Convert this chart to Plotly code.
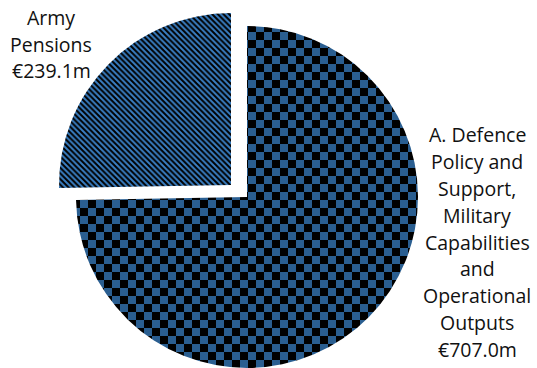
import plotly.graph_objects as go

# Spending split (EUR millions), drawn clockwise from 12 o'clock
labels = ["A. Defence Policy and Support, Military Capabilities and Operational Outputs",
          "Army Pensions"]
values = [707.0, 239.1]
label_lines = [["A. Defence", "Policy and", "Support,", "Military", "Capabilities",
                "and", "Operational", "Outputs"],
               ["Army", "Pensions"]]

W, H = 537, 368
STRIPE_BLUE = "#3a7fc3"
CHECK_BLUE = "#2a5e90"
INK = "#000000"
CLEAR = "rgba(0,0,0,0)"
FONT = "Open Sans"
FONT_SIZE = 19.5


def px_domain(cx, cy, r):
    """Square pie domain (paper fractions) around a pixel centre."""
    return dict(x=[(cx - r) / W, (cx + r) / W],
                y=[max(0.0, (H - cy - r) / H), min(1.0, (H - cy + r) / H)])


def slice_trace(show, shape, size, color, domain):
    """Pie trace in which only slice `show` is painted."""
    colors = [color if i == show else CLEAR for i in range(len(values))]
    shapes = [shape if i == show else "" for i in range(len(values))]
    return go.Pie(
        labels=labels, values=values, sort=False,
        direction="clockwise", rotation=0,
        textinfo="none", hoverinfo="label+value",
        showlegend=False, domain=domain,
        marker=dict(colors=colors, line=dict(width=0),
                    pattern=dict(shape=shapes, size=size, solidity=0.5,
                                 fgcolor=INK, bgcolor=colors, fillmode="replace")),
    )


fig = go.Figure()
# large slice (checked fill) and the exploded pensions slice (striped fill)
fig.add_trace(slice_trace(0, "+", 16, CHECK_BLUE, px_domain(247, 197, 171)))
fig.add_trace(slice_trace(1, "\\", 4, STRIPE_BLUE, px_domain(231, 185, 172)))


def label_block(i, cx, first_baseline, pitch):
    """One annotation per line so the line pitch can be set exactly."""
    lines = label_lines[i] + [f"€{values[i]:.1f}m"]
    out = []
    for k, line in enumerate(lines):
        mid = first_baseline + k * pitch - 0.36 * FONT_SIZE
        out.append(dict(text=line, x=cx / W, y=1 - mid / H,
                        xref="paper", yref="paper", xanchor="center", yanchor="middle",
                        showarrow=False, align="center",
                        font=dict(family=FONT, size=FONT_SIZE, color="#111111")))
    return out


annots = label_block(1, 51, 25, 26.3) + label_block(0, 477, 141.5, 26.9)

fig.update_layout(
    width=W, height=H,
    margin=dict(l=0, r=0, t=0, b=0),
    paper_bgcolor="white", plot_bgcolor="white",
    annotations=annots,
)

# Swap the generated fills for pixel tiles: an 8px checkerboard and a 4px "\" stripe
tile_js = """
var gd = document.getElementById('{plot_id}');
var NS = 'http://www.w3.org/2000/svg';
function rect(p, x, y, w, h, c) {
  var r = document.createElementNS(NS, 'rect');
  r.setAttribute('x', x); r.setAttribute('y', y);
  r.setAttribute('width', w); r.setAttribute('height', h);
  r.setAttribute('fill', c); r.setAttribute('shape-rendering', 'crispEdges');
  p.appendChild(r);
}
function retile() {
  gd.querySelectorAll('pattern').forEach(function(p) {
    var w = parseFloat(p.getAttribute('width'));
    if (w === 16) {
      while (p.firstChild) p.removeChild(p.firstChild);
      rect(p, 0, 0, 16, 16, 'CHECK');
      rect(p, 0, 0, 8, 8, 'INK');
      rect(p, 8, 8, 8, 8, 'INK');
    } else if (w === 4) {
      while (p.firstChild) p.removeChild(p.firstChild);
      rect(p, 0, 0, 4, 4, 'STRIPE');
      for (var i = 0; i < 4; i++) {
        if (i < 3) { rect(p, i, i, 2, 1, 'INK'); }
        else { rect(p, 3, 3, 1, 1, 'INK'); rect(p, 0, 3, 1, 1, 'INK'); }
      }
    }
  });
}
retile();
""".replace("CHECK", CHECK_BLUE).replace("STRIPE", STRIPE_BLUE).replace("INK", INK)

fig.write_html("out.html", post_script=tile_js)
